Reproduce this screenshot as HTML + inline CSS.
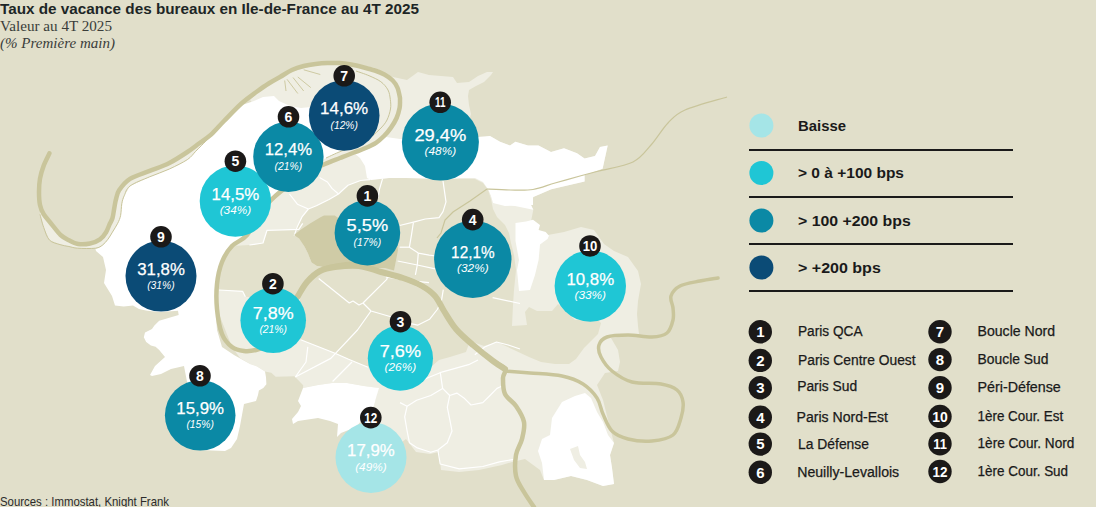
<!DOCTYPE html>
<html><head><meta charset="utf-8">
<style>
html,body{margin:0;padding:0;background:#e1dfca;}
body{width:1096px;height:507px;overflow:hidden;position:relative;font-family:"Liberation Sans",sans-serif;}
svg{position:absolute;left:0;top:0;display:block;}
</style></head>
<body>
<svg width="1096" height="507" viewBox="0 0 1096 507">
<rect x="0" y="0" width="1096" height="507" fill="#e1dfca"/>
<path d="M250.0,100.0 L265.0,85.0 L290.0,72.0 L320.0,64.0 L347.0,62.0 L375.0,68.0 L393.0,77.0 L407.0,80.0 L418.0,72.0 L429.0,75.0 L441.0,76.0 L453.0,77.0 L457.0,83.0 L469.0,82.0 L478.0,76.0 L487.0,72.0 L493.0,72.0 L491.0,75.0 L484.0,82.0 L476.0,86.0 L469.0,90.0 L468.0,96.0 L469.0,105.0 L471.0,114.0 L469.0,121.0 L476.0,130.0 L478.2,138.4 L490.0,136.0 L500.0,141.8 L510.0,145.6 L515.4,141.8 L528.0,145.6 L538.5,145.6 L551.0,152.0 L564.0,148.2 L577.0,153.3 L584.6,158.5 L595.0,156.0 L600.0,147.0 L607.7,145.6 L602.6,168.7 L584.6,175.0 L584.6,181.5 L551.3,189.2 L533.3,197.0 L530.8,204.6 L533.3,209.7 L530.8,222.6 L530.0,237.0 L537.0,237.0 L564.0,232.0 L581.0,227.0 L594.0,230.0 L604.0,244.0 L614.0,251.0 L628.0,257.0 L638.0,271.0 L641.0,284.0 L638.0,301.0 L637.0,314.0 L638.0,326.0 L639.0,334.0 L611.0,338.0 L618.0,350.0 L620.0,362.0 L618.0,371.0 L605.0,373.0 L597.0,385.0 L603.0,400.0 L608.0,420.0 L614.0,443.0 L610.0,455.0 L612.0,468.0 L614.0,484.0 L603.0,486.0 L587.0,480.0 L571.0,476.0 L554.0,480.0 L544.0,480.0 L540.0,470.0 L525.0,459.0 L512.0,462.0 L502.0,465.0 L479.0,470.0 L459.0,472.0 L441.0,470.0 L439.0,452.0 L430.0,454.0 L416.0,452.0 L406.0,439.0 L395.0,447.0 L378.0,440.0 L376.0,420.0 L374.0,406.0 L378.0,388.0 L364.0,386.0 L347.0,383.0 L332.0,383.0 L318.0,385.0 L303.0,388.0 L303.2,385.2 L294.4,376.3 L275.7,376.8 L271.3,372.8 L265.0,371.4 L257.1,366.5 L250.0,363.9 L240.0,358.0 L232.0,347.0 L217.0,309.0 L217.0,284.0 L233.0,250.0 L264.0,208.0 L308.0,172.0Z" fill="#efeee3"/>
<path d="M294.0,236.0 L297.0,226.0 L302.0,217.0 L308.0,209.0 L316.0,206.0 L329.0,199.5 L338.5,194.0 L348.0,185.3 L360.6,180.5 L370.0,179.7 L389.0,178.0 L406.0,178.0 L424.0,178.0 L440.0,179.0 L460.0,178.0 L475.0,179.0 L483.0,183.0 L488.0,190.0 L491.0,199.0 L493.0,209.0 L497.0,217.0 L505.0,225.0 L509.0,233.0 L511.0,243.0 L514.0,255.0 L516.0,270.0 L514.0,290.0 L513.0,305.0 L512.0,326.0 L527.0,325.0 L525.0,312.0 L529.0,307.0 L537.0,311.0 L552.0,311.0 L558.0,304.0 L575.0,320.0 L598.0,320.0 L601.0,323.0 L598.0,334.0 L591.0,341.0 L584.0,348.0 L576.0,359.0 L569.0,364.0 L555.0,364.0 L541.0,362.0 L529.0,357.0 L514.0,350.0 L497.0,342.0 L484.0,346.0 L470.0,341.0 L466.0,352.0 L450.0,357.0 L439.0,360.0 L425.0,372.0 L400.0,378.0 L380.0,372.0 L368.0,367.3 L348.6,359.3 L334.4,353.0 L316.6,346.0 L300.7,339.8 L300.0,300.0 L298.0,296.0 L307.0,282.0 L320.0,271.0 L327.0,269.0 L313.0,260.0 L306.0,248.0Z" fill="#e3e1cc"/>
<path d="M232.0,246.0 L249.0,245.0 L263.0,243.0 L267.0,230.0 L299.0,229.0 L294.0,235.0 L299.0,238.5 L304.5,246.5 L308.0,253.6 L311.6,262.5 L317.0,266.0 L327.0,269.0 L320.0,271.0 L307.0,282.0 L298.0,296.0 L290.0,300.0 L245.4,296.8 L242.6,291.3 L219.0,290.0 L217.0,284.0 L222.0,262.0Z" fill="#e3e1cc"/>
<path d="M242.0,105.0 L254.0,101.0 L263.0,97.0 L274.0,96.0 L279.0,101.0 L290.0,106.0 L301.0,108.0 L311.0,107.0 L340.0,112.0 L375.0,132.0 L368.0,138.5 L359.0,143.5 L347.0,149.0 L335.0,154.0 L324.0,159.0 L308.0,168.0 L280.0,190.0 L264.0,208.0 L247.0,235.0 L232.0,246.0 L222.0,262.0 L217.0,284.0 L215.0,300.0 L217.0,330.0 L222.0,347.0 L234.0,355.0 L250.0,363.9 L257.1,366.5 L265.0,371.4 L266.0,377.2 L266.4,384.3 L263.3,387.9 L258.9,390.5 L258.0,395.0 L256.0,401.0 L244.0,404.0 L240.0,426.0 L237.0,439.0 L231.0,448.0 L225.0,451.0 L200.0,450.0 L184.0,366.0 L171.0,369.0 L161.0,374.0 L152.0,376.0 L150.0,375.0 L155.0,366.0 L165.0,357.0 L159.2,350.0 L155.6,346.8 L150.9,345.6 L146.2,342.0 L143.8,337.3 L145.0,332.6 L152.0,329.0 L154.4,325.5 L159.2,320.8 L171.0,317.2 L178.7,314.9 L178.0,310.7 L171.0,311.3 L159.2,311.9 L147.3,310.7 L139.0,309.0 L133.0,305.4 L123.7,306.6 L115.0,305.4 L112.0,296.0 L104.0,283.0 L106.0,270.0 L103.0,257.0 L96.0,251.0 L95.5,249.0 L102.6,245.5 L107.9,239.3 L112.4,232.2 L117.7,223.3 L120.6,215.5 L121.8,203.7 L124.2,195.8 L130.0,186.0 L149.7,176.8 L169.4,169.0 L187.4,159.6 L195.7,151.3 L201.6,145.4 L211.0,135.0 L224.0,121.0Z" fill="#ffffff"/>
<path d="M354.0,153.0 L366.0,148.0 L377.0,143.0 L386.0,137.0 L400.0,139.0 L440.0,138.0 L477.0,137.0 L490.0,136.0 L500.0,141.8 L510.0,145.6 L515.4,141.8 L528.0,145.6 L538.5,145.6 L551.0,152.0 L564.0,148.2 L577.0,153.3 L584.6,158.5 L595.0,156.0 L600.0,147.0 L607.7,145.6 L602.6,168.7 L584.6,175.0 L584.6,181.5 L551.3,189.2 L533.3,197.0 L530.8,204.6 L533.3,209.7 L515.0,206.0 L505.0,205.0 L493.0,200.0 L488.0,189.0 L483.0,182.0 L475.0,178.0 L440.0,179.0 L406.0,178.0 L389.0,178.0 L371.0,180.0 L367.0,178.0 L365.0,166.0 L360.0,158.0Z" fill="#ffffff"/>
<path d="M303.0,388.0 L318.0,385.0 L332.0,383.0 L347.0,383.0 L364.0,386.0 L379.0,388.0 L376.0,398.0 L374.0,406.0 L356.0,427.0 L341.0,433.0 L337.0,437.0 L338.0,424.0 L330.0,421.0 L318.0,418.0 L298.0,421.0 L293.0,424.0 L292.0,419.0 L298.0,412.0 L301.0,406.0 L298.0,401.0Z" fill="#ffffff"/>
<path d="M562.0,402.0 L575.0,396.0 L585.0,393.0 L591.0,398.0 L597.0,412.0 L603.0,422.0 L608.0,435.0 L614.0,443.0 L610.0,455.0 L612.0,468.0 L614.0,484.0 L603.0,486.0 L587.0,480.0 L571.0,476.0 L554.0,480.0 L544.0,480.0 L542.0,463.0 L538.0,451.0 L542.0,439.0 L550.0,435.0 L552.0,418.0Z" fill="#ffffff"/>
<path d="M570.0,449.0 L578.0,446.0 L580.0,455.0 L585.0,462.0 L587.0,469.0 L580.0,468.0 L574.0,460.0Z" fill="#efeee3"/>
<path d="M515.5,223.0 L526.0,221.5 L533.0,219.7 L540.0,225.0 L538.6,230.0 L545.7,232.0 L549.0,235.7 L547.5,239.0 L540.0,244.6 L538.6,260.0 L535.0,275.0 L530.0,290.0 L519.0,291.0 L517.0,270.0 L519.0,260.0 L515.5,241.0Z" fill="#ffffff"/>
<path d="M489.0,188.0 L533.0,190.0 L533.0,205.0 L520.0,205.0 L505.0,206.0 L493.0,203.0Z" fill="#ffffff"/>
<path d="M382.6,178.7 L379.5,189.0 L378.0,198.0" fill="none" stroke="#fff" stroke-width="1.2" stroke-linejoin="round"/>
<path d="M443.0,181.0 L446.0,201.8 L443.0,211.7 L439.0,217.6 L425.2,219.0 L415.4,221.6 L399.6,225.5" fill="none" stroke="#fff" stroke-width="1.2" stroke-linejoin="round"/>
<path d="M413.4,222.5 L411.4,235.4 L409.4,247.2 L418.3,253.1 L429.2,255.1 L436.0,256.0" fill="none" stroke="#fff" stroke-width="1.2" stroke-linejoin="round"/>
<path d="M399.6,247.2 L409.4,247.2" fill="none" stroke="#fff" stroke-width="1.2" stroke-linejoin="round"/>
<path d="M418.3,253.1 L417.3,265.0 L415.4,274.8" fill="none" stroke="#fff" stroke-width="1.2" stroke-linejoin="round"/>
<path d="M397.6,261.0 L417.3,265.0 L435.1,268.9" fill="none" stroke="#fff" stroke-width="1.2" stroke-linejoin="round"/>
<path d="M385.8,276.8 L409.4,280.7 L429.0,282.7" fill="none" stroke="#fff" stroke-width="1.2" stroke-linejoin="round"/>
<path d="M318.7,278.5 L349.3,303.0 L353.0,301.0 L359.0,305.0 L363.0,303.0 L386.8,279.4 L387.8,275.5" fill="none" stroke="#fff" stroke-width="1.2" stroke-linejoin="round"/>
<path d="M363.0,303.0 L371.0,311.0 L398.6,319.0 L409.7,323.3 L417.6,325.2 L429.5,319.3 L437.3,309.5 L441.3,301.6 L443.3,289.7" fill="none" stroke="#fff" stroke-width="1.2" stroke-linejoin="round"/>
<path d="M371.0,311.0 L357.5,330.0 L330.8,358.4 L295.3,377.0" fill="none" stroke="#fff" stroke-width="1.2" stroke-linejoin="round"/>
<path d="M300.7,339.8 L316.6,346.0 L334.4,353.0 L348.6,359.3 L368.0,367.3" fill="none" stroke="#fff" stroke-width="1.2" stroke-linejoin="round"/>
<path d="M307.8,346.9 L306.0,362.0 L295.3,377.0" fill="none" stroke="#fff" stroke-width="1.2" stroke-linejoin="round"/>
<path d="M352.0,362.0 L332.6,381.5" fill="none" stroke="#fff" stroke-width="1.2" stroke-linejoin="round"/>
<path d="M492.6,297.6 L520.0,303.5" fill="none" stroke="#fff" stroke-width="1.2" stroke-linejoin="round"/>
<path d="M289.5,194.0 L297.4,204.2 L308.4,209.0 L316.4,205.8 L329.0,199.5 L338.5,194.0 L348.0,185.3 L360.6,180.5 L370.0,179.7" fill="none" stroke="#fff" stroke-width="1.2" stroke-linejoin="round"/>
<path d="M319.5,177.4 L327.4,182.0 L332.0,188.4 L338.5,194.0" fill="none" stroke="#fff" stroke-width="1.2" stroke-linejoin="round"/>
<path d="M308.4,209.0 L302.0,216.9 L297.4,226.4 L294.2,235.8" fill="none" stroke="#fff" stroke-width="1.2" stroke-linejoin="round"/>
<path d="M474.8,354.8 L484.7,347.0 L496.5,342.0 L508.3,345.0 L520.0,349.0" fill="none" stroke="#fff" stroke-width="1.2" stroke-linejoin="round"/>
<path d="M440.2,371.8 L442.6,388.4 L430.8,395.5 L416.6,400.2 L407.1,406.2 L400.0,402.6" fill="none" stroke="#fff" stroke-width="1.2" stroke-linejoin="round"/>
<path d="M442.6,388.4 L449.7,395.5 L456.8,393.1 L463.9,397.9 L471.0,405.0 L482.8,402.6 L490.0,395.5 L497.0,388.4 L499.4,387.2 L505.0,385.0" fill="none" stroke="#fff" stroke-width="1.2" stroke-linejoin="round"/>
<path d="M449.7,395.5 L447.3,407.3 L449.7,419.2 L452.0,431.0 L447.3,442.8 L437.9,450.0 L430.8,452.3 L423.7,450.0 L416.6,447.6 L409.5,442.8 L407.1,431.0 L404.7,416.8 L407.1,406.2" fill="none" stroke="#fff" stroke-width="1.2" stroke-linejoin="round"/>
<path d="M437.9,450.0 L440.2,464.0 L459.2,468.9 L482.8,466.5 L499.4,461.8 L513.6,459.4" fill="none" stroke="#fff" stroke-width="1.2" stroke-linejoin="round"/>
<path d="M400.0,390.8 L420.0,381.0 L442.6,371.8 L468.6,364.7 L478.0,360.0" fill="none" stroke="#fff" stroke-width="1.2" stroke-linejoin="round"/>
<path d="M249.4,245.0 L263.0,243.0 L267.0,230.3 L298.8,229.3 L302.7,223.4" fill="none" stroke="#fff" stroke-width="1.2" stroke-linejoin="round"/>
<path d="M219.0,290.0 L242.6,291.3 L245.4,296.8" fill="none" stroke="#fff" stroke-width="1.2" stroke-linejoin="round"/>
<path d="M294.0,235.0 L301.0,229.6 L310.0,223.4 L320.5,217.2 L324.0,215.4 L334.7,215.4 L338.3,218.0 L350.0,210.0 L390.0,225.0 L397.0,244.0 L398.0,250.0 L394.0,270.5 L385.0,268.0 L371.0,268.0 L355.0,267.0 L341.0,267.0 L329.0,268.0 L317.0,266.0 L311.6,262.5 L308.0,253.6 L304.5,246.5 L299.2,238.5Z" fill="#cfcba6"/>
<path d="M40.0,205.0 L43.7,214.3 L51.2,223.7 L60.6,235.0 L68.9,240.2 L78.0,244.0 L90.0,243.5 L100.0,239.3 L106.1,232.2 L109.7,224.0 L112.5,218.0 L114.3,208.0 L115.9,199.7 L119.1,190.3 L130.0,178.8 L149.7,170.9 L169.4,163.0 L187.4,152.0 L199.0,143.5 L208.0,139.0 L201.6,145.4 L195.7,151.3 L187.4,159.6 L169.4,169.0 L149.7,176.8 L130.0,186.0 L124.2,195.8 L121.8,203.7 L120.6,215.5 L117.7,223.3 L112.4,232.2 L107.9,239.3 L102.6,245.0 L95.5,248.2 L77.7,248.2 L68.9,246.5 L60.0,244.6 L49.4,240.0 L43.7,227.4 L40.0,214.3Z" fill="#efeee3"/>
<path d="M356.0,71.0 C358.2,71.8 364.9,73.9 369.0,75.7 C373.1,77.5 377.6,79.3 380.8,81.7 C384.0,84.1 386.4,87.0 388.0,90.0 C389.6,93.0 389.9,96.2 390.3,99.4 C390.7,102.6 391.1,105.6 390.5,109.0 C389.9,112.4 388.6,116.8 387.0,120.0 C385.4,123.2 383.5,125.3 381.0,128.0 C378.5,130.7 375.2,133.7 372.0,136.0 C368.8,138.3 365.7,140.1 362.0,142.0 C358.3,143.9 354.0,145.8 350.0,147.5 C346.0,149.2 342.0,150.8 338.0,152.5 C334.0,154.2 328.0,157.1 326.0,158.0" fill="none" stroke="#c9c59b" stroke-width="1"/>
<path d="M40.0,214.3 C40.6,216.5 42.1,223.1 43.7,227.4 C45.3,231.7 46.7,237.1 49.4,240.0 C52.1,242.9 56.8,243.5 60.0,244.6 C63.2,245.7 66.0,245.9 68.9,246.5 C71.9,247.1 73.3,247.9 77.7,248.2 C82.1,248.5 91.3,248.7 95.5,248.2 C99.7,247.7 100.5,246.5 102.6,245.0 C104.7,243.5 106.3,241.4 107.9,239.3 C109.5,237.2 110.8,234.9 112.4,232.2 C114.0,229.5 116.3,226.1 117.7,223.3 C119.1,220.5 119.9,218.8 120.6,215.5 C121.3,212.2 121.2,207.0 121.8,203.7 C122.4,200.4 122.8,198.8 124.2,195.8 C125.6,192.9 125.8,189.2 130.0,186.0 C134.2,182.8 143.1,179.6 149.7,176.8 C156.3,174.0 163.1,171.9 169.4,169.0 C175.7,166.1 183.0,162.5 187.4,159.6 C191.8,156.7 193.3,153.7 195.7,151.3 C198.1,148.9 199.5,147.5 201.6,145.4 C203.7,143.3 206.9,140.1 208.0,139.0" fill="none" stroke="#c9c59b" stroke-width="1"/>
<path d="M284.7,80.5 L286.0,91.0" fill="none" stroke="#c9c59b" stroke-width="0.9"/>
<path d="M287.0,79.3 L297.8,93.5" fill="none" stroke="#c9c59b" stroke-width="0.9"/>
<path d="M293.0,77.5 L303.7,91.0" fill="none" stroke="#c9c59b" stroke-width="0.9"/>
<path d="M297.8,77.0 L310.8,87.6" fill="none" stroke="#c9c59b" stroke-width="0.9"/>
<path d="M303.7,69.8 L320.3,74.5" fill="none" stroke="#c9c59b" stroke-width="0.9"/>
<path d="M437.0,238.0 L441.0,233.0 L445.0,220.0 L453.0,212.0 L470.0,201.0 L487.0,189.0" fill="none" stroke="#c9c59b" stroke-width="1.2"/>
<path d="M487.0,189.0 C490.8,189.2 502.3,189.9 510.0,190.0 C517.7,190.1 525.5,190.7 533.0,189.5 C540.5,188.3 547.2,185.2 555.0,183.0 C562.8,180.8 572.7,178.0 580.0,176.0 C587.3,174.0 590.2,173.3 599.0,171.0 C607.8,168.7 624.3,166.3 633.0,162.0 C641.7,157.7 645.2,151.5 651.0,145.0 C656.8,138.5 662.3,128.8 668.0,123.0 C673.7,117.2 675.2,114.3 685.0,110.0 C694.8,105.7 720.0,99.2 727.0,97.0" fill="none" stroke="#c9c59b" stroke-width="1.2"/>
<path d="M534.0,507.0 C532.3,504.5 527.0,497.2 524.0,492.0 C521.0,486.8 517.3,482.2 516.0,476.0 C514.7,469.8 515.0,461.2 516.0,455.0 C517.0,448.8 520.7,444.5 522.0,439.0 C523.3,433.5 525.0,427.5 524.0,422.0 C523.0,416.5 519.2,410.7 516.0,406.0 C512.8,401.3 507.2,398.7 505.0,394.0 C502.8,389.3 503.0,382.2 503.0,378.0 C503.0,373.8 506.7,371.8 505.0,369.0 C503.3,366.2 498.3,365.0 493.0,361.0 C487.7,357.0 479.2,350.3 473.0,345.0 C466.8,339.7 460.8,334.7 456.0,329.0 C451.2,323.3 447.5,316.5 444.0,311.0 C440.5,305.5 438.7,300.2 435.0,296.0 C431.3,291.8 427.3,289.0 422.0,286.0 C416.7,283.0 409.8,280.3 403.0,278.0 C396.2,275.7 388.3,274.3 381.0,272.0 C373.7,269.7 366.7,265.0 359.0,264.0 C351.3,263.0 341.5,264.8 335.0,266.0 C328.5,267.2 324.7,268.3 320.0,271.0 C315.3,273.7 310.7,277.8 307.0,282.0 C303.3,286.2 300.8,290.5 298.0,296.0 C295.2,301.5 293.0,308.8 290.0,315.0 C287.0,321.2 283.7,328.0 280.0,333.0 C276.3,338.0 272.0,342.2 268.0,345.0 C264.0,347.8 260.0,349.0 256.0,350.0 C252.0,351.0 248.0,351.5 244.0,351.0 C240.0,350.5 235.7,349.8 232.0,347.0 C228.3,344.2 224.5,340.3 222.0,334.0 C219.5,327.7 217.8,317.3 217.0,309.0 C216.2,300.7 216.2,291.8 217.0,284.0 C217.8,276.2 219.5,268.3 222.0,262.0 C224.5,255.7 227.8,250.5 232.0,246.0 C236.2,241.5 241.7,241.3 247.0,235.0 C252.3,228.7 258.5,215.2 264.0,208.0 C269.5,200.8 272.7,198.0 280.0,192.0 C287.3,186.0 300.5,176.7 308.0,172.0 C315.5,167.3 319.7,166.3 325.0,164.0 C330.3,161.7 335.2,159.9 340.0,158.0 C344.8,156.1 349.8,154.1 354.0,152.5 C358.2,150.9 361.3,149.9 365.0,148.3 C368.7,146.7 372.8,144.9 376.0,142.8 C379.2,140.8 381.5,138.5 384.0,136.0 C386.5,133.5 388.9,130.6 391.0,127.6 C393.1,124.6 395.2,121.3 396.6,118.0 C398.0,114.7 399.0,111.0 399.6,108.0 C400.2,105.0 400.0,101.8 400.0,100.0 C400.0,98.2 400.2,99.1 399.8,97.0 C399.4,94.9 398.6,90.3 397.4,87.6 C396.2,84.8 394.9,82.7 392.7,80.5 C390.5,78.3 387.4,76.2 384.4,74.5 C381.4,72.8 378.5,71.7 374.9,70.5 C371.3,69.3 366.9,68.2 363.0,67.2 C359.1,66.2 355.1,65.2 351.2,64.5 C347.2,63.8 343.3,63.2 339.3,63.0 C335.3,62.8 331.3,62.9 327.4,63.0 C323.4,63.1 319.6,63.4 315.6,63.9 C311.7,64.4 307.6,65.0 303.7,66.0 C299.8,67.0 295.8,68.2 291.9,70.0 C287.9,71.8 283.9,74.8 280.0,77.0 C276.1,79.2 272.6,81.0 268.7,83.5 C264.8,86.0 260.8,88.8 256.3,92.0 C251.9,95.2 247.4,98.2 242.0,103.0 C236.6,107.8 229.2,115.7 224.0,121.0 C218.8,126.3 215.2,130.9 211.0,134.7 C206.8,138.4 202.9,140.6 199.0,143.5 C195.1,146.4 192.3,148.8 187.4,152.0 C182.5,155.2 175.7,159.8 169.4,163.0 C163.1,166.2 156.3,168.3 149.7,170.9 C143.1,173.5 135.1,175.6 130.0,178.8 C124.9,182.0 121.4,186.8 119.1,190.3 C116.8,193.8 116.7,196.8 115.9,199.7 C115.1,202.6 114.9,204.9 114.3,208.0 C113.7,211.1 113.3,215.3 112.5,218.0 C111.7,220.7 110.8,221.6 109.7,224.0 C108.6,226.4 107.7,229.6 106.1,232.2 C104.5,234.8 102.7,237.4 100.0,239.3 C97.3,241.2 93.7,242.7 90.0,243.5 C86.3,244.3 81.5,244.6 78.0,244.0 C74.5,243.4 71.8,241.7 68.9,240.2 C66.0,238.7 63.6,237.8 60.6,235.0 C57.6,232.2 54.0,227.1 51.2,223.7 C48.4,220.2 45.6,217.4 43.7,214.3 C41.8,211.2 40.8,208.8 40.0,205.0 C39.2,201.2 39.0,196.2 39.0,191.8 C39.0,187.4 39.2,183.1 40.0,178.7 C40.8,174.3 42.1,169.8 43.7,165.6 C45.3,161.4 48.5,155.4 49.4,153.4" fill="none" stroke="#c9c59b" stroke-width="4.5" stroke-linecap="round" stroke-linejoin="round"/>
<path d="M505.0,369.0 C503.0,367.7 498.3,365.0 493.0,361.0 C487.7,357.0 479.2,350.3 473.0,345.0 C466.8,339.7 460.8,334.7 456.0,329.0 C451.2,323.3 447.5,316.5 444.0,311.0 C440.5,305.5 438.7,300.2 435.0,296.0 C431.3,291.8 427.3,289.0 422.0,286.0 C416.7,283.0 409.8,280.3 403.0,278.0 C396.2,275.7 388.3,274.0 381.0,272.0 C373.7,270.0 366.7,266.8 359.0,266.0 C351.3,265.2 341.5,266.2 335.0,267.0 C328.5,267.8 324.7,268.5 320.0,271.0 C315.3,273.5 310.7,277.8 307.0,282.0 C303.3,286.2 299.5,293.7 298.0,296.0" fill="none" stroke="#c9c59b" stroke-width="6" stroke-linecap="round" stroke-linejoin="round"/>
<path d="M505.0,371.0 C509.2,371.3 520.5,372.2 530.0,373.0 C539.5,373.8 553.2,374.2 562.0,376.0 C570.8,377.8 577.2,380.3 583.0,384.0 C588.8,387.7 593.7,393.0 597.0,398.0 C600.3,403.0 600.5,408.5 603.0,414.0 C605.5,419.5 607.8,426.8 612.0,431.0 C616.2,435.2 621.3,437.3 628.0,439.0 C634.7,440.7 644.5,441.7 652.0,441.0 C659.5,440.3 668.2,438.8 673.0,435.0 C677.8,431.2 679.3,423.5 681.0,418.0 C682.7,412.5 683.7,406.7 683.0,402.0 C682.3,397.3 680.7,393.0 677.0,390.0 C673.3,387.0 668.5,385.3 661.0,384.0 C653.5,382.7 640.2,384.2 632.0,382.0 C623.8,379.8 617.2,375.2 612.0,371.0 C606.8,366.8 603.2,361.3 601.0,357.0 C598.8,352.7 598.0,348.3 599.0,345.0 C600.0,341.7 602.2,338.7 607.0,337.0 C611.8,335.3 620.5,335.0 628.0,335.0 C635.5,335.0 645.5,337.3 652.0,337.0 C658.5,336.7 663.5,335.8 667.0,333.0 C670.5,330.2 672.0,324.2 673.0,320.0 C674.0,315.8 673.3,312.0 673.0,308.0 C672.7,304.0 669.8,299.7 671.0,296.0 C672.2,292.3 675.2,288.5 680.0,286.0 C684.8,283.5 693.7,282.3 700.0,281.0 C706.3,279.7 715.0,278.5 718.0,278.0" fill="none" stroke="#c9c59b" stroke-width="3.5" stroke-linecap="round" stroke-linejoin="round"/>
<circle cx="367.4" cy="232.8" r="32.8" fill="#0b89a5"/>
<circle cx="273.2" cy="320.2" r="32.8" fill="#1fc6d5"/>
<circle cx="400.4" cy="358.2" r="32.6" fill="#1fc6d5"/>
<circle cx="472.8" cy="259.2" r="38.7" fill="#0b89a5"/>
<circle cx="235.4" cy="201" r="35.7" fill="#1fc6d5"/>
<circle cx="288.4" cy="156.8" r="35.2" fill="#0b89a5"/>
<circle cx="344.2" cy="115.4" r="35.3" fill="#0b4b76"/>
<circle cx="200.2" cy="415.3" r="35.3" fill="#0b89a5"/>
<circle cx="161" cy="276.1" r="35.5" fill="#0b4b76"/>
<circle cx="590.3" cy="286.1" r="35.7" fill="#1fc6d5"/>
<circle cx="440.4" cy="142.1" r="38.5" fill="#0b89a5"/>
<circle cx="371" cy="457.5" r="35.5" fill="#a5e5e7"/>
<text x="346.6" y="231.3" font-family="Liberation Sans" font-size="17" fill="#fff" stroke="#fff" stroke-width="0.25" textLength="41.5" lengthAdjust="spacingAndGlyphs">5,5%</text>
<text x="353.6" y="245.9" font-family="Liberation Sans" font-style="italic" font-size="11" fill="#fff" textLength="27.6" lengthAdjust="spacingAndGlyphs">(17%)</text>
<circle cx="367.4" cy="195.9" r="10.8" fill="#1b1918"/>
<text x="367.4" y="200.9" text-anchor="middle" font-family="Liberation Sans" font-weight="bold" font-size="14" fill="#fff" >1</text>
<text x="252.8" y="318.7" font-family="Liberation Sans" font-size="17" fill="#fff" stroke="#fff" stroke-width="0.25" textLength="40.8" lengthAdjust="spacingAndGlyphs">7,8%</text>
<text x="259.4" y="333.3" font-family="Liberation Sans" font-style="italic" font-size="11" fill="#fff" textLength="27.6" lengthAdjust="spacingAndGlyphs">(21%)</text>
<circle cx="272.9" cy="283.7" r="10.8" fill="#1b1918"/>
<text x="272.9" y="288.7" text-anchor="middle" font-family="Liberation Sans" font-weight="bold" font-size="14" fill="#fff" >2</text>
<text x="379.8" y="356.7" font-family="Liberation Sans" font-size="17" fill="#fff" stroke="#fff" stroke-width="0.25" textLength="41.2" lengthAdjust="spacingAndGlyphs">7,6%</text>
<text x="384.6" y="371.3" font-family="Liberation Sans" font-style="italic" font-size="11" fill="#fff" textLength="31.5" lengthAdjust="spacingAndGlyphs">(26%)</text>
<circle cx="400.5" cy="321.7" r="10.8" fill="#1b1918"/>
<text x="400.5" y="326.7" text-anchor="middle" font-family="Liberation Sans" font-weight="bold" font-size="14" fill="#fff" >3</text>
<text x="451.1" y="257.7" font-family="Liberation Sans" font-size="17" fill="#fff" stroke="#fff" stroke-width="0.25" textLength="43.5" lengthAdjust="spacingAndGlyphs">12,1%</text>
<text x="457.1" y="272.3" font-family="Liberation Sans" font-style="italic" font-size="11" fill="#fff" textLength="31.5" lengthAdjust="spacingAndGlyphs">(32%)</text>
<circle cx="472.7" cy="219.6" r="10.8" fill="#1b1918"/>
<text x="472.7" y="224.6" text-anchor="middle" font-family="Liberation Sans" font-weight="bold" font-size="14" fill="#fff" >4</text>
<text x="211.6" y="199.5" font-family="Liberation Sans" font-size="17" fill="#fff" stroke="#fff" stroke-width="0.25" textLength="47.7" lengthAdjust="spacingAndGlyphs">14,5%</text>
<text x="219.7" y="214.1" font-family="Liberation Sans" font-style="italic" font-size="11" fill="#fff" textLength="31.5" lengthAdjust="spacingAndGlyphs">(34%)</text>
<circle cx="235.4" cy="161.2" r="10.8" fill="#1b1918"/>
<text x="235.4" y="166.2" text-anchor="middle" font-family="Liberation Sans" font-weight="bold" font-size="14" fill="#fff" >5</text>
<text x="264.8" y="155.3" font-family="Liberation Sans" font-size="17" fill="#fff" stroke="#fff" stroke-width="0.25" textLength="47.3" lengthAdjust="spacingAndGlyphs">12,4%</text>
<text x="274.6" y="169.9" font-family="Liberation Sans" font-style="italic" font-size="11" fill="#fff" textLength="27.6" lengthAdjust="spacingAndGlyphs">(21%)</text>
<circle cx="288.5" cy="116.8" r="10.8" fill="#1b1918"/>
<text x="288.5" y="121.8" text-anchor="middle" font-family="Liberation Sans" font-weight="bold" font-size="14" fill="#fff" >6</text>
<text x="320.1" y="113.9" font-family="Liberation Sans" font-size="17" fill="#fff" stroke="#fff" stroke-width="0.25" textLength="48.1" lengthAdjust="spacingAndGlyphs">14,6%</text>
<text x="330.5" y="128.5" font-family="Liberation Sans" font-style="italic" font-size="11" fill="#fff" textLength="27.4" lengthAdjust="spacingAndGlyphs">(12%)</text>
<circle cx="344.2" cy="75.8" r="10.8" fill="#1b1918"/>
<text x="344.2" y="80.8" text-anchor="middle" font-family="Liberation Sans" font-weight="bold" font-size="14" fill="#fff" >7</text>
<text x="176.3" y="413.8" font-family="Liberation Sans" font-size="17" fill="#fff" stroke="#fff" stroke-width="0.25" textLength="47.7" lengthAdjust="spacingAndGlyphs">15,9%</text>
<text x="186.4" y="428.4" font-family="Liberation Sans" font-style="italic" font-size="11" fill="#fff" textLength="27.5" lengthAdjust="spacingAndGlyphs">(15%)</text>
<circle cx="200" cy="375.8" r="10.8" fill="#1b1918"/>
<text x="200" y="380.8" text-anchor="middle" font-family="Liberation Sans" font-weight="bold" font-size="14" fill="#fff" >8</text>
<text x="137.2" y="274.6" font-family="Liberation Sans" font-size="17" fill="#fff" stroke="#fff" stroke-width="0.25" textLength="47.7" lengthAdjust="spacingAndGlyphs">31,8%</text>
<text x="147.2" y="289.2" font-family="Liberation Sans" font-style="italic" font-size="11" fill="#fff" textLength="27.5" lengthAdjust="spacingAndGlyphs">(31%)</text>
<circle cx="161" cy="236.8" r="10.8" fill="#1b1918"/>
<text x="161" y="241.8" text-anchor="middle" font-family="Liberation Sans" font-weight="bold" font-size="14" fill="#fff" >9</text>
<text x="566.4" y="284.6" font-family="Liberation Sans" font-size="17" fill="#fff" stroke="#fff" stroke-width="0.25" textLength="47.7" lengthAdjust="spacingAndGlyphs">10,8%</text>
<text x="574.5" y="299.2" font-family="Liberation Sans" font-style="italic" font-size="11" fill="#fff" textLength="31.5" lengthAdjust="spacingAndGlyphs">(33%)</text>
<circle cx="590" cy="246" r="10.8" fill="#1b1918"/>
<text x="590" y="251" text-anchor="middle" font-family="Liberation Sans" font-weight="bold" font-size="14" fill="#fff" textLength="14.6" lengthAdjust="spacingAndGlyphs">10</text>
<text x="414.4" y="140.6" font-family="Liberation Sans" font-size="17" fill="#fff" stroke="#fff" stroke-width="0.25" textLength="51.9" lengthAdjust="spacingAndGlyphs">29,4%</text>
<text x="424.6" y="155.2" font-family="Liberation Sans" font-style="italic" font-size="11" fill="#fff" textLength="31.5" lengthAdjust="spacingAndGlyphs">(48%)</text>
<circle cx="440.2" cy="102.3" r="10.8" fill="#1b1918"/>
<text x="440.2" y="107.3" text-anchor="middle" font-family="Liberation Sans" font-weight="bold" font-size="14" fill="#fff" textLength="10.5" lengthAdjust="spacingAndGlyphs">11</text>
<text x="347.1" y="456.0" font-family="Liberation Sans" font-size="17" fill="#fff" stroke="#fff" stroke-width="0.25" textLength="47.7" lengthAdjust="spacingAndGlyphs">17,9%</text>
<text x="355.2" y="470.6" font-family="Liberation Sans" font-style="italic" font-size="11" fill="#fff" textLength="31.5" lengthAdjust="spacingAndGlyphs">(49%)</text>
<circle cx="370.8" cy="417.6" r="10.8" fill="#1b1918"/>
<text x="370.8" y="422.6" text-anchor="middle" font-family="Liberation Sans" font-weight="bold" font-size="14" fill="#fff" textLength="13" lengthAdjust="spacingAndGlyphs">12</text>
<text x="0" y="14.2" font-family="Liberation Sans" font-weight="bold" font-size="15" fill="#1d2626" textLength="419" lengthAdjust="spacingAndGlyphs">Taux de vacance des bureaux en Ile-de-France au 4T 2025</text>
<text x="0" y="31.3" font-family="Liberation Serif" font-size="14.5" fill="#3a3d3a" textLength="112" lengthAdjust="spacingAndGlyphs">Valeur au 4T 2025</text>
<text x="0" y="48.3" font-family="Liberation Serif" font-style="italic" font-size="14.5" fill="#3a3d3a" textLength="115" lengthAdjust="spacingAndGlyphs">(% Première main)</text>
<text x="0" y="506" font-family="Liberation Sans" font-size="13" fill="#2b2b2b" textLength="169" lengthAdjust="spacingAndGlyphs">Sources : Immostat, Knight Frank</text>
<circle cx="761.4" cy="125.5" r="12" fill="#a5e5e7"/>
<text x="798" y="130.7" font-family="Liberation Sans" font-weight="bold" font-size="15" fill="#1a1a1a" textLength="48" lengthAdjust="spacingAndGlyphs">Baisse</text>
<circle cx="761.4" cy="173" r="12" fill="#1fc6d5"/>
<text x="798" y="178.2" font-family="Liberation Sans" font-weight="bold" font-size="15" fill="#1a1a1a" textLength="106" lengthAdjust="spacingAndGlyphs">&gt; 0 à +100 bps</text>
<circle cx="761.4" cy="220.5" r="12" fill="#0b89a5"/>
<text x="798" y="225.7" font-family="Liberation Sans" font-weight="bold" font-size="15" fill="#1a1a1a" textLength="112.7" lengthAdjust="spacingAndGlyphs">&gt; 100 +200 bps</text>
<circle cx="761.4" cy="267.5" r="12" fill="#0b4b76"/>
<text x="798" y="272.7" font-family="Liberation Sans" font-weight="bold" font-size="15" fill="#1a1a1a" textLength="82.8" lengthAdjust="spacingAndGlyphs">&gt; +200 bps</text>
<rect x="749" y="149" width="264" height="2" fill="#1a1a1a"/>
<rect x="749" y="196" width="264" height="2" fill="#1a1a1a"/>
<rect x="749" y="243" width="264" height="2" fill="#1a1a1a"/>
<rect x="749" y="290" width="264" height="2" fill="#1a1a1a"/>
<circle cx="760.3" cy="331.8" r="11.7" fill="#1b1918"/>
<text x="760.4" y="337.1" text-anchor="middle" font-family="Liberation Sans" font-weight="bold" font-size="15" fill="#fff">1</text>
<text x="798" y="336.40000000000003" font-family="Liberation Sans" font-size="14" fill="#1a1a1a" stroke="#1a1a1a" stroke-width="0.25" textLength="64.5" lengthAdjust="spacingAndGlyphs">Paris QCA</text>
<circle cx="760.3" cy="360.4" r="11.7" fill="#1b1918"/>
<text x="760.4" y="365.7" text-anchor="middle" font-family="Liberation Sans" font-weight="bold" font-size="15" fill="#fff">2</text>
<text x="798" y="365.0" font-family="Liberation Sans" font-size="14" fill="#1a1a1a" stroke="#1a1a1a" stroke-width="0.25" textLength="117.6" lengthAdjust="spacingAndGlyphs">Paris Centre Ouest</text>
<circle cx="760.3" cy="387.8" r="11.7" fill="#1b1918"/>
<text x="760.4" y="393.1" text-anchor="middle" font-family="Liberation Sans" font-weight="bold" font-size="15" fill="#fff">3</text>
<text x="797.2" y="391.40000000000003" font-family="Liberation Sans" font-size="14" fill="#1a1a1a" stroke="#1a1a1a" stroke-width="0.25" textLength="60" lengthAdjust="spacingAndGlyphs">Paris Sud</text>
<circle cx="760.3" cy="417.2" r="11.7" fill="#1b1918"/>
<text x="760.4" y="422.5" text-anchor="middle" font-family="Liberation Sans" font-weight="bold" font-size="15" fill="#fff">4</text>
<text x="796.5" y="422.20000000000005" font-family="Liberation Sans" font-size="14" fill="#1a1a1a" stroke="#1a1a1a" stroke-width="0.25" textLength="91.5" lengthAdjust="spacingAndGlyphs">Paris Nord-Est</text>
<circle cx="760.3" cy="444.1" r="11.7" fill="#1b1918"/>
<text x="760.4" y="449.40000000000003" text-anchor="middle" font-family="Liberation Sans" font-weight="bold" font-size="15" fill="#fff">5</text>
<text x="798" y="448.90000000000003" font-family="Liberation Sans" font-size="14" fill="#1a1a1a" stroke="#1a1a1a" stroke-width="0.25" textLength="71" lengthAdjust="spacingAndGlyphs">La Défense</text>
<circle cx="760.3" cy="472.3" r="11.7" fill="#1b1918"/>
<text x="760.4" y="477.6" text-anchor="middle" font-family="Liberation Sans" font-weight="bold" font-size="15" fill="#fff">6</text>
<text x="797.2" y="476.90000000000003" font-family="Liberation Sans" font-size="14" fill="#1a1a1a" stroke="#1a1a1a" stroke-width="0.25" textLength="102" lengthAdjust="spacingAndGlyphs">Neuilly-Levallois</text>
<circle cx="940" cy="331.8" r="11.7" fill="#1b1918"/>
<text x="940" y="337.1" text-anchor="middle" font-family="Liberation Sans" font-weight="bold" font-size="15" fill="#fff" >7</text>
<text x="977.5" y="336.40000000000003" font-family="Liberation Sans" font-size="14" fill="#1a1a1a" stroke="#1a1a1a" stroke-width="0.25" textLength="77.6" lengthAdjust="spacingAndGlyphs">Boucle Nord</text>
<circle cx="940" cy="359.6" r="11.7" fill="#1b1918"/>
<text x="940" y="364.90000000000003" text-anchor="middle" font-family="Liberation Sans" font-weight="bold" font-size="15" fill="#fff" >8</text>
<text x="977.5" y="364.20000000000005" font-family="Liberation Sans" font-size="14" fill="#1a1a1a" stroke="#1a1a1a" stroke-width="0.25" textLength="71" lengthAdjust="spacingAndGlyphs">Boucle Sud</text>
<circle cx="940" cy="387.8" r="11.7" fill="#1b1918"/>
<text x="940" y="393.1" text-anchor="middle" font-family="Liberation Sans" font-weight="bold" font-size="15" fill="#fff" >9</text>
<text x="977.5" y="392.40000000000003" font-family="Liberation Sans" font-size="14" fill="#1a1a1a" stroke="#1a1a1a" stroke-width="0.25" textLength="83.3" lengthAdjust="spacingAndGlyphs">Péri-Défense</text>
<circle cx="940" cy="416.4" r="11.7" fill="#1b1918"/>
<text x="940" y="421.7" text-anchor="middle" font-family="Liberation Sans" font-weight="bold" font-size="15" fill="#fff" textLength="15.5" lengthAdjust="spacingAndGlyphs">10</text>
<text x="977.5" y="421.0" font-family="Liberation Sans" font-size="14" fill="#1a1a1a" stroke="#1a1a1a" stroke-width="0.25" textLength="85.7" lengthAdjust="spacingAndGlyphs">1ère Cour. Est</text>
<circle cx="940" cy="443.7" r="11.7" fill="#1b1918"/>
<text x="940" y="449.0" text-anchor="middle" font-family="Liberation Sans" font-weight="bold" font-size="15" fill="#fff" textLength="13.6" lengthAdjust="spacingAndGlyphs">11</text>
<text x="977.5" y="448.3" font-family="Liberation Sans" font-size="14" fill="#1a1a1a" stroke="#1a1a1a" stroke-width="0.25" textLength="96.8" lengthAdjust="spacingAndGlyphs">1ère Cour. Nord</text>
<circle cx="940" cy="471.5" r="11.7" fill="#1b1918"/>
<text x="940" y="476.8" text-anchor="middle" font-family="Liberation Sans" font-weight="bold" font-size="15" fill="#fff" textLength="15" lengthAdjust="spacingAndGlyphs">12</text>
<text x="977.5" y="476.1" font-family="Liberation Sans" font-size="14" fill="#1a1a1a" stroke="#1a1a1a" stroke-width="0.25" textLength="90.6" lengthAdjust="spacingAndGlyphs">1ère Cour. Sud</text>
</svg>
</body></html>
